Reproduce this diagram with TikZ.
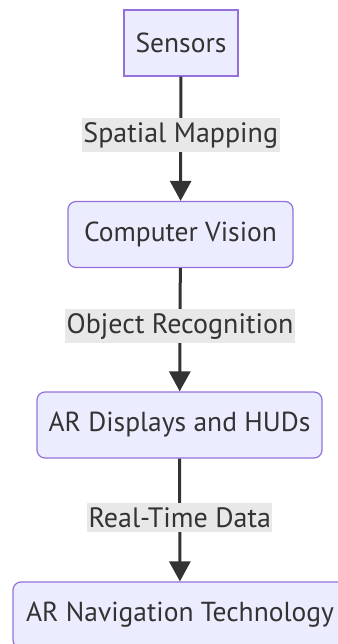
\documentclass[tikz,border=0pt]{standalone}
\usepackage{fontspec}
\setmainfont{PT Sans}
\usetikzlibrary{arrows.meta}
\definecolor{nodefill}{HTML}{ECECFF}
\definecolor{nodeline}{HTML}{9370DB}
\definecolor{ink}{HTML}{333333}
\definecolor{labelbg}{HTML}{E8E8E8}
\tikzset{
  box/.style={draw=nodeline, fill=nodefill, line width=1.2pt, text=ink,
    minimum height=66pt, inner sep=0pt, font=\fontsize{27.5}{31}\selectfont},
  roundbox/.style={box, rounded corners=8pt},
  flow/.style={draw=ink, line width=3pt, -{Triangle[length=20pt,width=21pt]}},
  edgelabel/.style={fill=labelbg, text=ink, inner xsep=1.5pt, inner ysep=4pt,
    font=\fontsize{28}{31}\selectfont},
}
\begin{document}
\begin{tikzpicture}[x=1pt,y=-1pt]
  \useasboundingbox (0,0) rectangle (337,644);
  \node[box, minimum width=114pt] (sensors) at (181,43) {Sensors};
  \node[roundbox, minimum width=225pt] (vision) at (180.5,234.5) {Computer Vision};
  \node[roundbox, minimum width=285pt] (hud) at (179.5,425) {AR Displays and HUDs};
  \node[roundbox, minimum width=334pt] (nav) at (180,615) {AR Navigation Technology};
  \draw[flow] (sensors) -- node[edgelabel, pos=0.47] (l1) {Spatial Mapping} (vision);
  \draw[flow] (vision) -- node[edgelabel, pos=0.47] (l2) {Object Recognition} (hud);
  \draw[flow] (hud) -- node[edgelabel, pos=0.48] (l3) {Real-Time Data} (nav);
\end{tikzpicture}
\end{document}
